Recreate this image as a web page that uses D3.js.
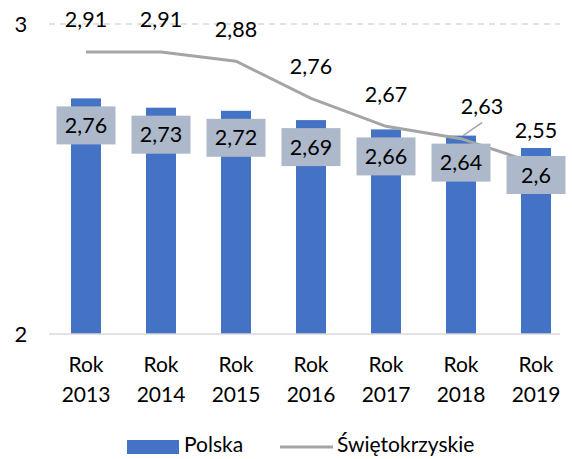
<!DOCTYPE html>
<html>
<head>
<meta charset="utf-8">
<script src="https://cdn.jsdelivr.net/npm/d3@7"></script>
<style>
  body { margin: 0; background: #fff; }
  text { font-family: Lato, "Open Sans", sans-serif; fill: #000; }
</style>
</head>
<body>
<svg id="chart" width="572" height="459"></svg>
<script>
const years = ["2013", "2014", "2015", "2016", "2017", "2018", "2019"];
const polska = [2.76, 2.73, 2.72, 2.69, 2.66, 2.64, 2.6];
const swietokrzyskie = [2.91, 2.91, 2.88, 2.76, 2.67, 2.63, 2.55];
const yTicks = [2, 3];

const svg = d3.select("#chart");

const x = d3.scaleBand().domain(years).range([48.5, 573.5]).paddingInner(0.6).paddingOuter(0.3);
const y = d3.scaleLinear().domain([2, 3]).range([334, 24]);
const cx = (d) => x(d) + x.bandwidth() / 2;

// gridlines
svg.append("line")
  .attr("x1", 49).attr("x2", 560)
  .attr("y1", y(3)).attr("y2", y(3))
  .attr("stroke", "#d9d9d9").attr("stroke-width", 1.5)
  .attr("stroke-dasharray", "6,5");

// bars
svg.selectAll(".bar")
  .data(years)
  .enter()
  .append("rect")
  .attr("class", "bar")
  .attr("x", (d) => x(d))
  .attr("width", x.bandwidth())
  .attr("y", (d, i) => y(polska[i]))
  .attr("height", (d, i) => y(2) - y(polska[i]))
  .attr("fill", "#4472c4");

// baseline
svg.append("line")
  .attr("x1", 49).attr("x2", 560)
  .attr("y1", y(2)).attr("y2", y(2))
  .attr("stroke", "#d9d9d9").attr("stroke-width", 1.5);

// y tick labels
svg.selectAll(".ytick")
  .data(yTicks)
  .enter()
  .append("text")
  .attr("x", 21)
  .attr("y", (d) => y(d))
  .attr("dy", "0.35em")
  .attr("text-anchor", "middle")
  .style("font-size", "22px")
  .text((d) => d);

// x labels
const xl = svg.selectAll(".xlab")
  .data(years)
  .enter()
  .append("text")
  .attr("text-anchor", "middle")
  .style("font-size", "21px");
xl.append("tspan").attr("x", cx).attr("y", 372).text("Rok");
xl.append("tspan").attr("x", cx).attr("y", 402).text((d) => d);

// line
const line = d3.line()
  .x((d, i) => cx(years[i]))
  .y((d) => y(d));
svg.append("path")
  .datum(swietokrzyskie)
  .attr("d", line)
  .attr("fill", "none")
  .attr("stroke", "#a5a5a5")
  .attr("stroke-width", 3);

// bar value boxes
const boxW = 59, boxH = 38;
const boxes = svg.selectAll(".vbox")
  .data(years)
  .enter()
  .append("g")
  .attr("transform", (d, i) => `translate(${cx(d)},${y(polska[i]) + 8})`);
boxes.append("rect")
  .attr("x", -boxW / 2)
  .attr("width", boxW)
  .attr("height", boxH)
  .attr("fill", "#adb9ca");
boxes.append("text")
  .attr("y", boxH / 2)
  .attr("dy", "0.35em")
  .attr("text-anchor", "middle")
  .style("font-size", "21.5px")
  .text((d, i) => String(polska[i]).replace(".", ","));

// line value labels
const lineOffsetX = [0, 0, 0, 0, 0, 21, 0];
const lineOffsetY = [-32, -32, -32, -32, -32, -32, -33];
svg.selectAll(".llab")
  .data(years)
  .enter()
  .append("text")
  .attr("x", (d, i) => cx(d) + lineOffsetX[i])
  .attr("y", (d, i) => y(swietokrzyskie[i]) + lineOffsetY[i])
  .attr("dy", "0.35em")
  .attr("text-anchor", "middle")
  .style("font-size", "21.5px")
  .text((d, i) => String(swietokrzyskie[i]).replace(".", ","));

// leader line for 2018
svg.append("line")
  .attr("x1", cx("2018") + 21).attr("y1", y(2.63) - 16)
  .attr("x2", cx("2018") + 2).attr("y2", y(2.63) - 3)
  .attr("stroke", "#a5a5a5").attr("stroke-width", 1.5);

// legend
const legend = svg.append("g");
legend.append("rect")
  .attr("x", 127).attr("y", 440).attr("width", 52).attr("height", 14)
  .attr("fill", "#4472c4");
legend.append("text")
  .attr("x", 184).attr("y", 445).attr("dy", "0.35em")
  .style("font-size", "21px").text("Polska");
legend.append("line")
  .attr("x1", 280).attr("x2", 333).attr("y1", 447).attr("y2", 447)
  .attr("stroke", "#a5a5a5").attr("stroke-width", 3);
legend.append("text")
  .attr("x", 337).attr("y", 445).attr("dy", "0.35em")
  .style("font-size", "21px").text("Świętokrzyskie");
</script>
</body>
</html>
